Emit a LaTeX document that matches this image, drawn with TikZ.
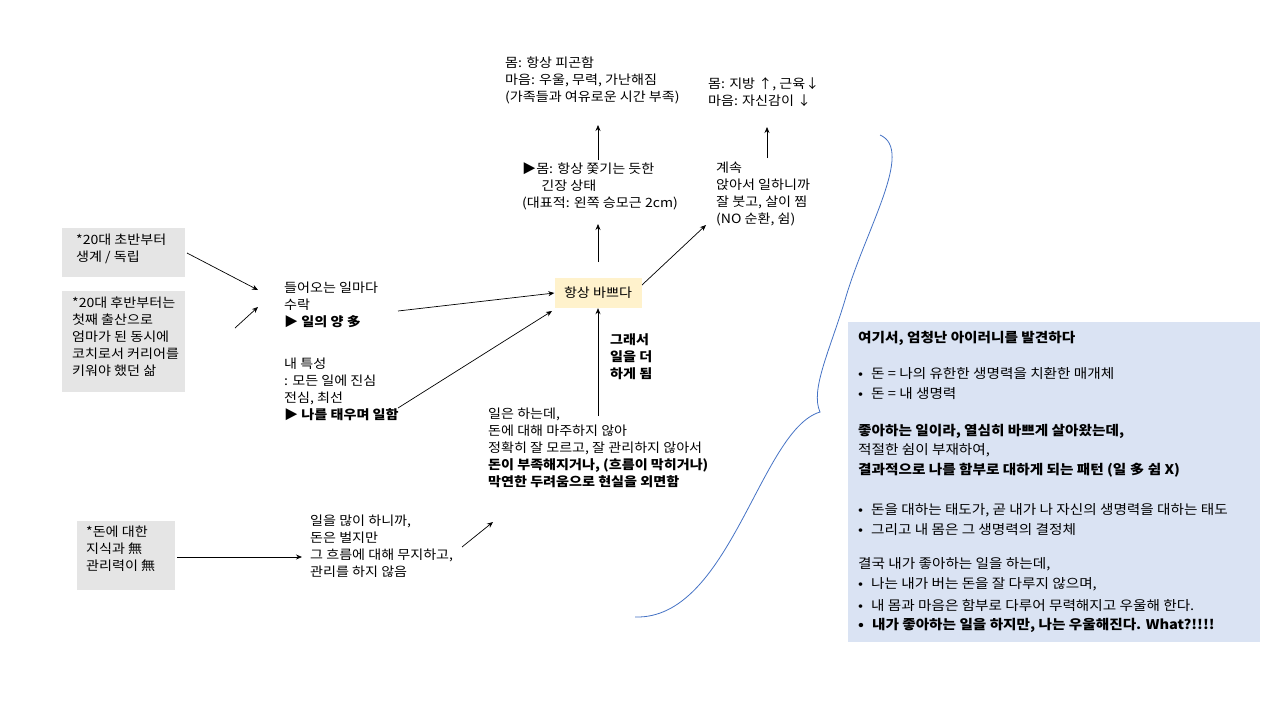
\documentclass[tikz,border=0pt]{standalone}
\usepackage{fontspec}
\setmainfont[FakeStretch=1.1]{Noto Sans CJK KR}
\usetikzlibrary{arrows.meta}
\definecolor{boxblue}{RGB}{218,227,243}
\definecolor{bracecol}{RGB}{68,114,196}
\definecolor{yel}{RGB}{255,242,204}
\begin{document}
\begin{tikzpicture}[x=1pt,y=-1pt,
  txt/.style={anchor=north west,align=left,inner sep=0pt,font=\fontsize{12.8}{17}\selectfont},
  gbox/.style={fill=gray!20,draw=none},
  arr/.style={-{Stealth[length=6pt,width=5pt]},line width=0.7pt},
  rt/.style={anchor=west,inner sep=0pt,font=\fontsize{13.3}{16}\selectfont}]
\useasboundingbox (0,0) rectangle (1280,720);
\fill[gbox] (62,228) rectangle (185,277);
\node[txt] (b1) at (76,234) {*20대 초반부터\\생계 / 독립};
\fill[gbox] (62,291) rectangle (185,392);
\node[txt] (b2) at (72,297) {*20대 후반부터는\\첫째 출산으로\\엄마가 된 동시에\\코치로서 커리어를\\키워야 했던 삶};
\fill[gbox] (77,521) rectangle (175,590);
\node[txt] (b3) at (86,526) {*돈에 대한\\지식과 無\\관리력이 無};
\node[txt] (t1) at (284,282) {들어오는 일마다\\수락\\\textbf{▶ 일의 양 多}};
\node[txt] (t2) at (284,358) {내 특성\\: 모든 일에 진심\\전심, 최선\\\textbf{▶ 나를 태우며 일함}};
\node[fill=yel,minimum width=87pt,minimum height=30pt,inner sep=0pt,font=\fontsize{12.8}{17}\selectfont] (busy) at (598,293) {항상 바쁘다};
\node[txt,font=\fontsize{12.8}{17}\selectfont\bfseries] (so) at (610,333) {그래서\\일을 더\\하게 됨};
\node[txt] (t3) at (488,408) {일은 하는데,\\돈에 대해 마주하지 않아\\정확히 잘 모르고, 잘 관리하지 않아서\\\textbf{돈이 부족해지거나, (흐름이 막히거나)}\\\textbf{막연한 두려움으로 현실을 외면함}};
\node[txt] (t4) at (310,515) {일을 많이 하니까,\\돈은 벌지만\\그 흐름에 대해 무지하고,\\관리를 하지 않음};
\node[txt] (t5) at (522,162) {▶몸: 항상 쫓기는 듯한\\\hspace*{1.5em}긴장 상태\\(대표적: 왼쪽 승모근 2cm)};
\node[txt] (t6) at (505,57) {몸: 항상 피곤함\\마음: 우울, 무력, 가난해짐\\(가족들과 여유로운 시간 부족)};
\node[txt] (t7) at (716,162) {계속\\앉아서 일하니까\\잘 붓고, 살이 찜\\(NO 순환, 쉼)};
\node[txt] (t8) at (708,77) {몸: 지방 ↑, 근육↓\\마음: 자신감이 ↓};
\coordinate (a1) at (187,253); \coordinate (a1e) at (258,290);
\draw[arr] (a1) -- (a1e);
\coordinate (a2) at (235,328); \coordinate (a2e) at (258,307);
\draw[arr] (a2) -- (a2e);
\coordinate (a3) at (398,311); \draw[arr] (a3) -- (busy.west|-0,293);
\coordinate (a4) at (398,408); \coordinate (a4e) at (552,311); \draw[arr] (a4) -- (a4e);
\coordinate (a5) at (598,416); \draw[arr] (a5) -- (busy.south);
\coordinate (a6) at (598,262); \coordinate (a6e) at (598,224); \draw[arr] (a6) -- (a6e);
\coordinate (a7) at (598,160); \coordinate (a7e) at (598,125); \draw[arr] (a7) -- (a7e);
\coordinate (a8) at (642,285); \coordinate (a8e) at (706,225); \draw[arr] (a8) -- (a8e);
\coordinate (a9) at (767,158); \coordinate (a9e) at (767,127); \draw[arr] (a9) -- (a9e);
\coordinate (a10) at (177,557); \coordinate (a10e) at (302,557); \draw[arr] (a10) -- (a10e);
\coordinate (a11) at (462,547); \coordinate (a11e) at (493,522); \draw[arr] (a11) -- (a11e);
\draw[color=bracecol,line width=0.8pt] (880,135) .. controls (915,150) and (865,230) .. (845,300)
  .. controls (830,350) and (810,390) .. (820,412)
  .. controls (760,430) and (730,620) .. (635,617);
\fill[boxblue] (848,322) rectangle (1260,642);
\node[rt,font=\fontsize{13.3}{16}\selectfont\bfseries] (r0) at (858,338) {여기서, 엄청난 아이러니를 발견하다};
\node[rt] (r1) at (858,374) {•\hspace{8pt}돈 = 나의 유한한 생명력을 치환한 매개체};
\node[rt] (r2) at (858,394) {•\hspace{8pt}돈 = 내 생명력};
\node[rt,font=\fontsize{13.3}{16}\selectfont\bfseries] (r3) at (858,431) {좋아하는 일이라, 열심히 바쁘게 살아왔는데,};
\node[rt] (r4) at (858,450) {적절한 쉼이 부재하여,};
\node[rt,font=\fontsize{13.3}{16}\selectfont\bfseries] (r5) at (858,470) {결과적으로 나를 함부로 대하게 되는 패턴 (일 多 쉼 X)};
\node[rt] (r6) at (858,510) {•\hspace{8pt}돈을 대하는 태도가, 곧 내가 나 자신의 생명력을 대하는 태도};
\node[rt] (r7) at (858,530) {•\hspace{8pt}그리고 내 몸은 그 생명력의 결정체};
\node[rt] (r8) at (858,564) {결국 내가 좋아하는 일을 하는데,};
\node[rt] (r9) at (858,584) {•\hspace{8pt}나는 내가 버는 돈을 잘 다루지 않으며,};
\node[rt] (r10) at (858,605) {•\hspace{8pt}내 몸과 마음은 함부로 다루어 무력해지고 우울해 한다.};
\node[rt,font=\fontsize{13.3}{16}\selectfont\bfseries] (r11) at (858,625) {•\hspace{8pt}내가 좋아하는 일을 하지만, 나는 우울해진다. What?!!!!};
\end{tikzpicture}
\end{document}
